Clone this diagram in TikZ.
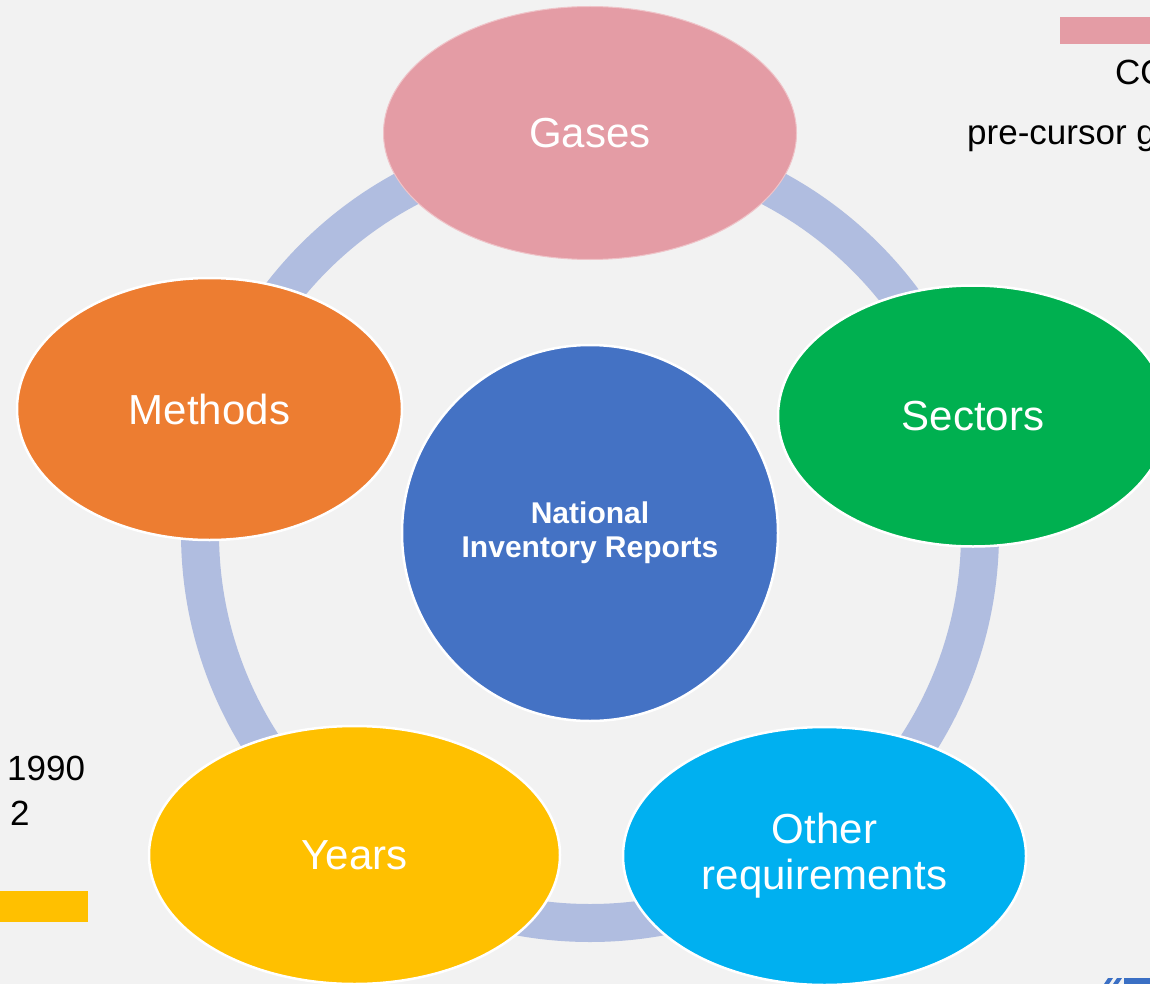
\documentclass[tikz,border=0pt]{standalone}
\usepackage{fontspec}
\setmainfont{Liberation Sans}
\usetikzlibrary{shapes.geometric}
\definecolor{bg}{HTML}{F2F2F2}
\definecolor{ringc}{HTML}{B0BDE0}
\definecolor{gasc}{HTML}{E49CA5}
\definecolor{secc}{HTML}{00B050}
\definecolor{metc}{HTML}{ED7D31}
\definecolor{yrc}{HTML}{FFC000}
\definecolor{othc}{HTML}{00B0F0}
\definecolor{hubc}{HTML}{4472C4}
\definecolor{logoc}{HTML}{3A6FC4}
\tikzset{
  blob/.style={ellipse, draw=white, line width=2.5pt, inner sep=0pt, text=white,
    align=center, font=\fontsize{42}{46}\selectfont},
  hub/.style={circle, draw=white, line width=2.5pt, fill=hubc, inner sep=0pt,
    minimum size=376pt, text=white, align=center, font=\bfseries\fontsize{30}{34}\selectfont},
  ringline/.style={draw=ringc, line width=38pt},
  sidetext/.style={anchor=base west, inner sep=0pt, text=black, font=\fontsize{35}{40}\selectfont},
}
\begin{document}
\begin{tikzpicture}[x=1pt,y=-1pt]
\useasboundingbox (0,0) rectangle (1150,984);
\clip (0,0) rectangle (1150,984);
\fill[bg] (0,0) rectangle (1150,984);
\coordinate (c) at (590,533);
\draw[ringline] (c) circle[radius=390];
% side fragments
\fill[gasc] (1060,17) rectangle (1150,44);
\node[sidetext] (co) at (1115,85) {CO};
\node[sidetext] (pre) at (967,145) {pre-cursor g};
\node[sidetext] (y1990) at (7,780) {1990};
\node[sidetext] (y2) at (10,825) {2};
\fill[yrc] (0,891) rectangle (88,922);
\fill[logoc] (1104,984) -- (1108,978) -- (1113,978) -- (1109,984) -- cycle;
\fill[logoc] (1113,984) -- (1117,978) -- (1122,978) -- (1118,984) -- cycle;
\fill[logoc] (1124,978) rectangle (1150,984);
% nodes
\node[blob, fill=gasc, draw=gasc!60!white, line width=1pt, minimum width=413pt, minimum height=253pt] (gases) at (590,133) {Gases};
\node[blob, fill=secc, minimum width=390pt, minimum height=261pt] (sectors) at (973,416) {Sectors};
\node[blob, fill=metc, minimum width=385pt, minimum height=262pt] (methods) at (209.5,409) {Methods};
\node[blob, fill=yrc, minimum width=411pt, minimum height=258pt] (years) at (354.5,855) {Years};
\node[blob, fill=othc, minimum width=403pt, minimum height=258pt] (other) at (824.5,856) {Other\\requirements};
\node[hub] (nir) at (c) {National\\Inventory Reports};
\end{tikzpicture}
\end{document}
